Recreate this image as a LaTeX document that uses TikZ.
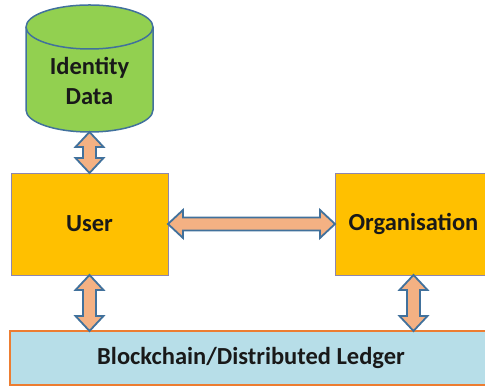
\documentclass[tikz,border=0pt]{standalone}
\usepackage{fontspec}
\setmainfont{Carlito}
\usetikzlibrary{calc}

\definecolor{dbgreen}{HTML}{92D050}
\definecolor{dbedge}{HTML}{41719C}
\definecolor{boxorange}{HTML}{FFC000}
\definecolor{boxedge}{HTML}{8E86AE}
\definecolor{ledgerfill}{HTML}{B7DEE8}
\definecolor{ledgeredge}{HTML}{ED7D31}
\definecolor{arrowfill}{HTML}{F4B183}
\definecolor{arrowedge}{HTML}{41719C}

\tikzset{
  labeltext/.style={font=\fontsize{24.5}{30}\selectfont\bfseries, text=black!90, align=center},
  actor/.style={rectangle, draw=boxedge, fill=boxorange, line width=0.8pt,
    minimum width=157pt, minimum height=102pt, inner sep=0pt, outer sep=0pt, labeltext},
  ledger/.style={rectangle, draw=ledgeredge, fill=ledgerfill, line width=1.5pt,
    minimum width=482pt, minimum height=54pt, inner sep=0pt, outer sep=0pt, labeltext},
  fatarrow/.style={draw=arrowedge, fill=arrowfill, line width=1.8pt, line join=miter},
}

% double-headed block arrow, vertical: #1 top end, #2 bottom end (x from #1)
\newcommand\fatV[2]{%
  \draw[fatarrow] let \p1=#1, \p2=#2 in
    (\x1,\y1) -- (\x1+14pt,\y1-15pt) -- (\x1+6.5pt,\y1-15pt) -- (\x1+6.5pt,\y2+15pt)
    -- (\x1+14pt,\y2+15pt) -- (\x1,\y2) -- (\x1-14pt,\y2+15pt) -- (\x1-6.5pt,\y2+15pt)
    -- (\x1-6.5pt,\y1-15pt) -- (\x1-14pt,\y1-15pt) -- cycle;}
% double-headed block arrow, horizontal: #1 left end, #2 right end (y from #1)
\newcommand\fatH[2]{%
  \draw[fatarrow] let \p1=#1, \p2=#2 in
    (\x1,\y1) -- (\x1+15pt,\y1+14pt) -- (\x1+15pt,\y1+6.5pt) -- (\x2-15pt,\y1+6.5pt)
    -- (\x2-15pt,\y1+14pt) -- (\x2,\y1) -- (\x2-15pt,\y1-14pt) -- (\x2-15pt,\y1-6.5pt)
    -- (\x1+15pt,\y1-6.5pt) -- (\x1+15pt,\y1-14pt) -- cycle;}

\begin{document}
\begin{tikzpicture}[x=1pt,y=1pt]
\useasboundingbox (0,0) rectangle (485,387);
\clip (0,0) rectangle (485,387);

% identity data store (cylinder)
\draw[draw=dbedge, fill=dbgreen, line width=1.5pt]
  (26,360) -- (26,277) arc[start angle=180, end angle=360, x radius=63.5, y radius=22]
  -- (153,360) arc[start angle=0, end angle=180, x radius=63.5, y radius=22] -- cycle;
\draw[draw=dbedge, line width=1.5pt]
  (26,360) arc[start angle=180, end angle=360, x radius=63.5, y radius=22];
\node[labeltext] (data) at (89.5,306) {Identity\\Data};
\coordinate (datab) at (89.5,255);

% participants
\node[actor] (user) at (89.5,163) {User};
\node[actor] (org) at (413.5,163) {Organisation};

% shared ledger
\node[ledger] (chain) at (251,29) {Blockchain/Distributed Ledger};

% exchanges
\fatV{(datab)}{(user.north)}
\fatH{(user.east)}{(org.west)}
\fatV{(user.south)}{(user.south |- chain.north)}
\fatV{(org.south)}{(org.south |- chain.north)}
\end{tikzpicture}
\end{document}
